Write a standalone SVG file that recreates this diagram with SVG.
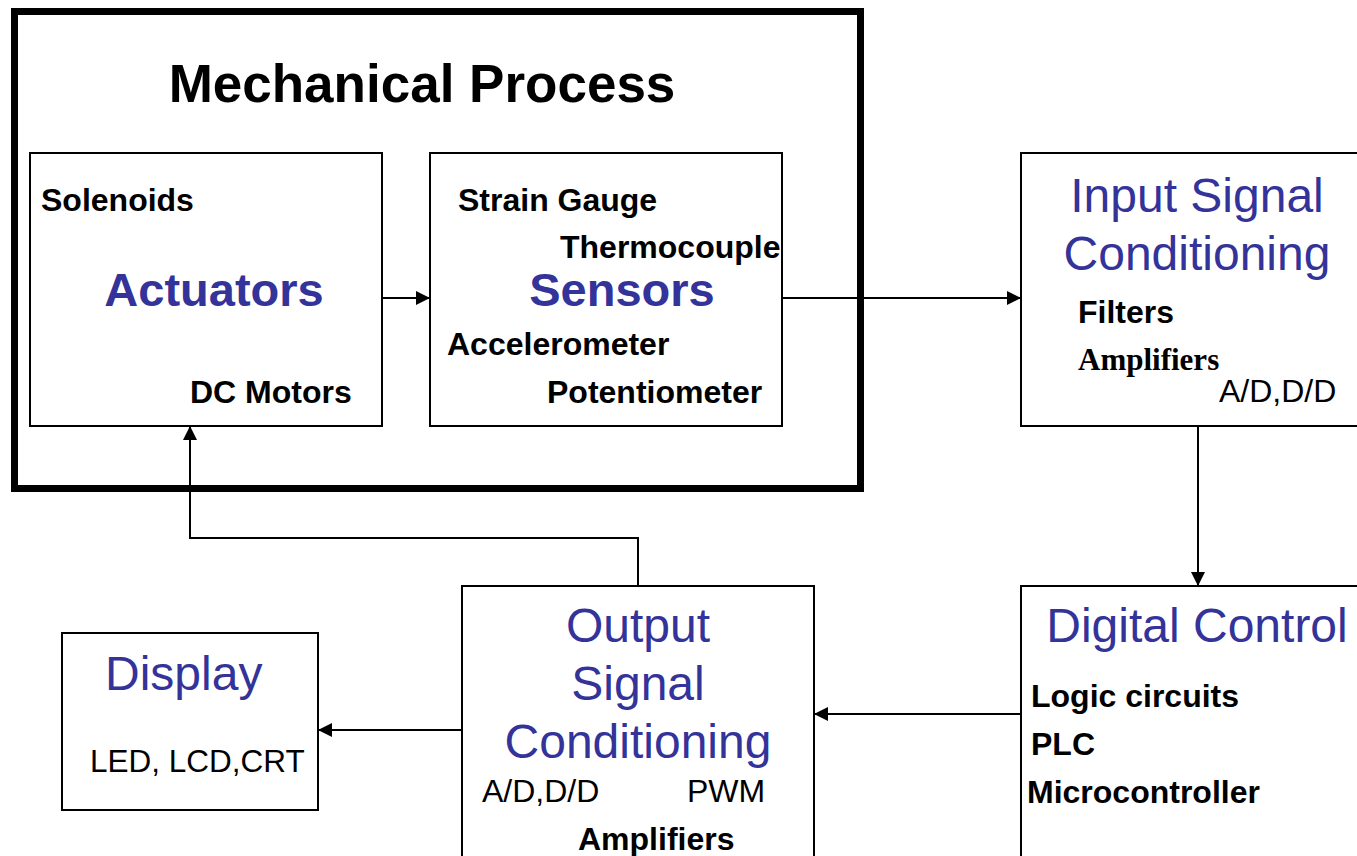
<svg xmlns="http://www.w3.org/2000/svg" width="1357" height="856" viewBox="0 0 1357 856">
<style>
.box{fill:#fff;stroke:#000;stroke-width:2}
.t{font-family:"Liberation Sans",Arial,sans-serif;fill:#000}
.b{font-weight:bold;font-size:32px}
.r{font-size:32px}
.h{font-size:48px;fill:#333399}
.hb{font-size:47px;font-weight:bold;fill:#333399}
.s{font-family:"Liberation Serif","Times New Roman",serif;font-weight:bold;font-size:31px;fill:#000}
.c{text-anchor:middle}
.ln{fill:none;stroke:#000;stroke-width:2}
</style>
<defs>
<marker id="ah" viewBox="0 0 14 14" refX="14" refY="7" markerWidth="14" markerHeight="14" markerUnits="userSpaceOnUse" orient="auto">
<path d="M0,0L14,7L0,14Z" fill="#000"/>
</marker>
</defs>
<rect width="1357" height="856" fill="#fff"/>
<g id="mechanical-process">
<rect x="14.5" y="11.5" width="846" height="477" fill="none" stroke="#000" stroke-width="7"/>
<text class="t c" x="422" y="102" font-size="53" font-weight="bold">Mechanical Process</text>
</g>
<g id="actuators">
<rect class="box" x="30" y="153" width="352" height="273"/>
<text class="t b" x="41" y="211">Solenoids</text>
<text class="t hb c" x="214" y="306">Actuators</text>
<text class="t b" x="190" y="403">DC Motors</text>
</g>
<g id="sensors">
<rect class="box" x="430" y="153" width="352" height="273"/>
<text class="t b" x="458" y="211">Strain Gauge</text>
<text class="t b" x="560" y="258">Thermocouple</text>
<text class="t hb c" x="622" y="306">Sensors</text>
<text class="t b" x="447" y="355">Accelerometer</text>
<text class="t b" x="547" y="403">Potentiometer</text>
</g>
<g id="input-signal-conditioning">
<rect class="box" x="1021" y="153" width="350" height="273"/>
<text class="t h c" x="1197" y="212">Input Signal</text>
<text class="t h c" x="1197" y="270">Conditioning</text>
<text class="t b" x="1078" y="323">Filters</text>
<text class="s" x="1078" y="370">Amplifiers</text>
<text class="t r" x="1219" y="402">A/D,D/D</text>
</g>
<g id="digital-control">
<rect class="box" x="1021" y="586" width="350" height="290"/>
<text class="t h c" x="1197" y="642">Digital Control</text>
<text class="t b" x="1031" y="707">Logic circuits</text>
<text class="t b" x="1031" y="755">PLC</text>
<text class="t b" x="1027" y="803">Microcontroller</text>
</g>
<g id="output-signal-conditioning">
<rect class="box" x="462" y="586" width="352" height="290"/>
<text class="t h c" x="638" y="642">Output</text>
<text class="t h c" x="638" y="700">Signal</text>
<text class="t h c" x="638" y="758">Conditioning</text>
<text class="t r" x="482" y="802">A/D,D/D</text>
<text class="t r" x="687" y="802">PWM</text>
<text class="t b" x="578" y="850">Amplifiers</text>
</g>
<g id="display">
<rect class="box" x="62" y="633" width="256" height="177"/>
<text class="t h" x="105" y="690" font-size="47">Display</text>
<text class="t" x="90" y="772" font-size="31.5">LED, LCD,CRT</text>
</g>
<g id="connectors">
<path class="ln" d="M382,298H430" marker-end="url(#ah)"/>
<path class="ln" d="M782,298H1021" marker-end="url(#ah)"/>
<path class="ln" d="M1198,426V586" marker-end="url(#ah)"/>
<path class="ln" d="M1021,714H814" marker-end="url(#ah)"/>
<path class="ln" d="M638,586V538H190V426" marker-end="url(#ah)"/>
<path class="ln" d="M462,730H318" marker-end="url(#ah)"/>
</g>
</svg>
